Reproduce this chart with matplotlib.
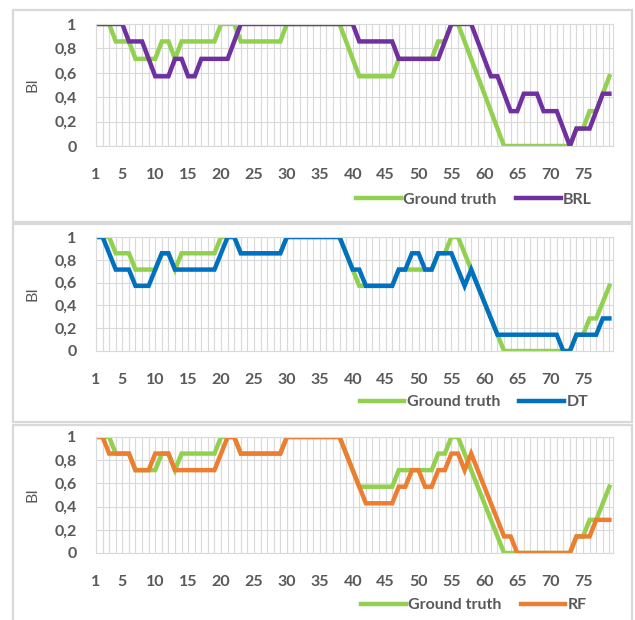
import matplotlib
matplotlib.use("Agg")
import matplotlib.pyplot as plt
from matplotlib.patches import Rectangle

# values are in sevenths (BI scores)
days = list(range(1, 80))

ground_truth = [7, 7, 7, 6, 6, 6, 5, 5, 5, 5, 6, 6, 5, 6, 6, 6, 6, 6, 6, 7,
                7, 7, 6, 6, 6, 6, 6, 6, 6, 7, 7, 7, 7, 7, 7, 7, 7, 7, 6, 5,
                4, 4, 4, 4, 4, 4, 5, 5, 5, 5, 5, 5, 6, 6, 7, 7, 6, 5, 4, 3,
                2, 1, 0, 0, 0, 0, 0, 0, 0, 0, 0, 0, 0, 1, 1, 2, 2, 3, 4]

brl = [7, 7, 7, 7, 7, 6, 6, 6, 5, 4, 4, 4, 5, 5, 4, 4, 5, 5, 5, 5,
       5, 6, 7, 7, 7, 7, 7, 7, 7, 7, 7, 7, 7, 7, 7, 7, 7, 7, 7, 7,
       6, 6, 6, 6, 6, 6, 5, 5, 5, 5, 5, 5, 5, 6, 7, 7, 7, 7, 6, 5,
       4, 4, 3, 2, 2, 3, 3, 3, 2, 2, 2, 1, 0, 1, 1, 1, 2, 3, 3]

dt = [7, 7, 6, 5, 5, 5, 4, 4, 4, 5, 6, 6, 5, 5, 5, 5, 5, 5, 5, 6,
      7, 7, 6, 6, 6, 6, 6, 6, 6, 7, 7, 7, 7, 7, 7, 7, 7, 7, 6, 5,
      5, 4, 4, 4, 4, 4, 5, 5, 6, 6, 5, 5, 6, 6, 6, 5, 4, 5, 4, 3,
      2, 1, 1, 1, 1, 1, 1, 1, 1, 1, 1, 0, 0, 1, 1, 1, 1, 2, 2]

rf = [7, 7, 6, 6, 6, 6, 5, 5, 5, 6, 6, 6, 5, 5, 5, 5, 5, 5, 5, 6,
      7, 7, 6, 6, 6, 6, 6, 6, 6, 7, 7, 7, 7, 7, 7, 7, 7, 7, 6, 5,
      4, 3, 3, 3, 3, 3, 4, 4, 5, 5, 4, 4, 5, 5, 6, 6, 5, 6, 5, 4,
      3, 2, 1, 1, 0, 0, 0, 0, 0, 0, 0, 0, 0, 1, 1, 1, 2, 2, 2]

models = [("BRL", brl, "#7030A0"), ("DT", dt, "#0070C0"), ("RF", rf, "#ED7D31")]
gt_color = "#92D050"

plt.rcParams["font.family"] = ["Lato", "DejaVu Sans"]
plt.rcParams["font.weight"] = "bold"

W, H = 635, 620
fig = plt.figure(figsize=(W / 100, H / 100), dpi=100)

# (axes top, axes bottom, frame top, frame bottom, legend y) in pixels
panels = [(24, 146, 10, 222, 200), (237, 351, 224, 422, 402), (437, 553, 425, 640, 605)]

for (top, bot, ftop, fbot, ly), (name, vals, col) in zip(panels, models):
    fig.patches.append(Rectangle((13 / W, 1 - fbot / H), (632 - 13) / W, (fbot - ftop) / H,
                                 transform=fig.transFigure, fill=False,
                                 edgecolor="#d9d9d9", linewidth=1.6))
    ax = fig.add_axes([96 / W, 1 - bot / H, (613 - 96) / W, (bot - top) / H])
    ax.plot(days, [v / 7 for v in ground_truth], color=gt_color, lw=3.2,
            label="Ground truth", solid_joinstyle="miter")
    ax.plot(days, [v / 7 for v in vals], color=col, lw=3.2, label=name,
            solid_joinstyle="miter")
    ax.set_xlim(1, 79.55)
    ax.set_ylim(0, 1)
    ax.set_xticks(days, minor=True)
    ax.set_xticks([1] + list(range(5, 80, 5)))
    ax.set_yticks([0, 0.2, 0.4, 0.6, 0.8, 1])
    ax.set_yticklabels(["0", "0,2", "0,4", "0,6", "0,8", "1"])
    ax.grid(True, which="both", axis="x", color="#d9d9d9", lw=0.8)
    ax.grid(True, which="major", axis="y", color="#d9d9d9", lw=0.8)
    ax.set_axisbelow(True)
    for s in ["top", "right", "bottom", "left"]:
        ax.spines[s].set_color("#d9d9d9")
        ax.spines[s].set_linewidth(0.8)
    ax.tick_params(which="both", length=0, labelsize=11.5, colors="#595959")
    ax.tick_params(axis="x", pad=15.5)
    ax.tick_params(axis="y", pad=14)
    ax.set_ylabel("BI", fontsize=11.5, color="#595959")
    ax.yaxis.set_label_coords(-(96 - 39) / (613 - 96), 0.5)
    fig.legend(handles=ax.get_lines(), loc="center", bbox_to_anchor=(474 / W, 1 - ly / H),
               ncol=2, frameon=False, fontsize=11.5, handlelength=2.8, handletextpad=0.15,
               columnspacing=1.2, labelcolor="#595959")

fig.savefig("out.png", dpi=100)
